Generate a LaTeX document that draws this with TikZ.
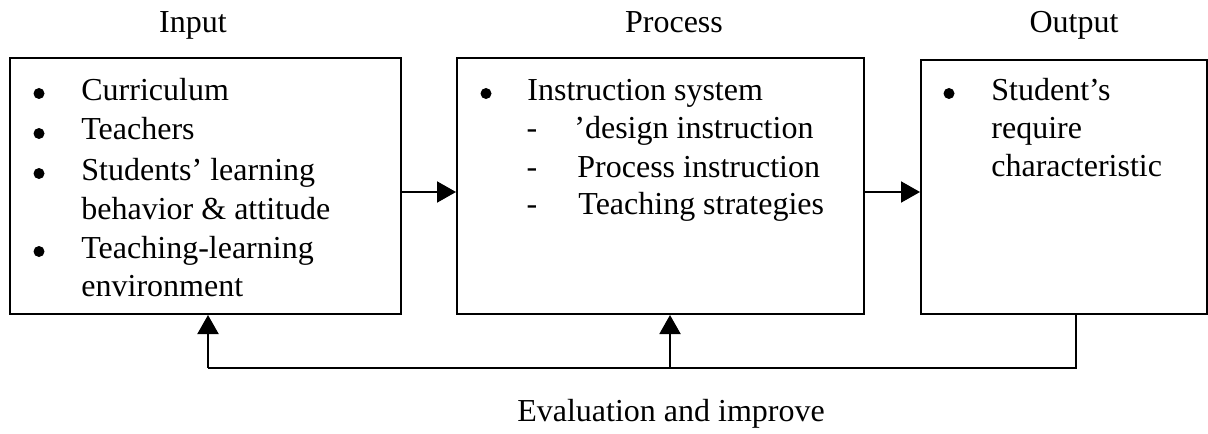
\documentclass[tikz,border=0pt]{standalone}
\usepackage{fontspec}
\setmainfont{Liberation Serif}
\usetikzlibrary{arrows.meta}
\tikzset{
  box/.style={draw, line width=1pt, rectangle, inner sep=0pt},
  txt/.style={anchor=base west, inner sep=0pt, font=\fontsize{16}{19}\selectfont},
  bul/.style={circle, fill, inner sep=0pt, minimum size=5.5pt},
  dsh/.style={anchor=base, inner sep=0pt, font=\fontsize{16}{19}\selectfont},
  ttl/.style={anchor=base, inner sep=0pt, font=\fontsize{16}{19}\selectfont},
  arr/.style={line width=1pt, -{Triangle[length=9.5pt,width=10.5pt]}},
  ln/.style={line width=1pt}
}
\begin{document}
\begin{tikzpicture}[x=0.5pt,y=-0.5pt]
\useasboundingbox (0,0) rectangle (1208,433);
% boxes
\node[box, minimum width=195.5pt, minimum height=128pt] (in) at (205.5,186) {};
\node[box, minimum width=203.5pt, minimum height=128pt] (pr) at (660.5,186) {};
\node[box, minimum width=142.75pt, minimum height=127pt] (out) at (1063.75,187) {};
% titles
\node[ttl] (tin) at (193,33) {Input};
\node[ttl] (tpr) at (674,33) {Process};
\node[ttl] (tout) at (1074,33) {Output};
% input text
\node[bul] (b1) at (39,93.5) {};
\node[txt] (i1) at (81,100) {Curriculum};
\node[bul] (b2) at (39,133.5) {};
\node[txt] (i2) at (81,140) {Teachers};
\node[bul] (b3) at (39,173.5) {};
\node[txt] (i3) at (81,180) {Students’ learning};
\node[txt] (i4) at (81,219) {behavior \& attitude};
\node[bul] (b4) at (39,251.5) {};
\node[txt] (i5) at (81,258) {Teaching-learning};
\node[txt] (i6) at (81,296) {environment};
% process text
\node[bul] (b5) at (486,93.5) {};
\node[txt] (p1) at (527,100) {Instruction system};
\node[dsh] (d1) at (532,138) {-};
\node[txt] (p2) at (574,138) {’design instruction};
\node[dsh] (d2) at (532,177) {-};
\node[txt] (p3) at (577,177) {Process instruction};
\node[dsh] (d3) at (532,214) {-};
\node[txt] (p4) at (578,214) {Teaching strategies};
% output text
\node[bul] (b6) at (949,93.5) {};
\node[txt] (o1) at (991,100) {Student’s};
\node[txt] (o2) at (991,138) {require};
\node[txt] (o3) at (991,176) {characteristic};
% horizontal arrows
\coordinate (ay) at (0,192);
\draw[arr] (in.east |- ay) -- (pr.west |- ay);
\draw[arr] (pr.east |- ay) -- (out.west |- ay);
% feedback loop
\coordinate (fy) at (0,368);
\coordinate (xo) at (1076,0);
\coordinate (xi) at (208,0);
\coordinate (xp) at (670,0);
\draw[ln] (out.south -| xo) -- (xo |- fy) -- (xi |- fy);
\draw[arr] (xi |- fy) -- (in.south -| xi);
\draw[arr] (xp |- fy) -- (pr.south -| xp);
\node[ttl] (ev) at (671,421) {Evaluation and improve};
\end{tikzpicture}
\end{document}
